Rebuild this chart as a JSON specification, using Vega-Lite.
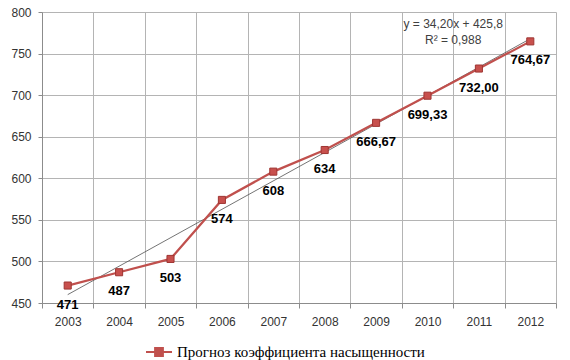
{
  "$schema": "https://vega.github.io/schema/vega-lite/v6.json",
  "width": 514,
  "height": 291,
  "autosize": "none",
  "padding": {"left": 42, "top": 12, "right": 14, "bottom": 57},
  "background": "white",
  "config": {
    "view": {"stroke": null},
    "axis": {"labelFont": "Liberation Sans", "labelFontSize": 12, "labelColor": "#333333", "domainColor": "#8c8c8c", "tickColor": "#8c8c8c", "gridColor": "#b4b4b4", "gridWidth": 1, "title": null}
  },
  "data": {"values": [
    {"year": 2003, "value": 471, "label": "471"},
    {"year": 2004, "value": 487, "label": "487"},
    {"year": 2005, "value": 503, "label": "503"},
    {"year": 2006, "value": 574, "label": "574"},
    {"year": 2007, "value": 608, "label": "608"},
    {"year": 2008, "value": 634, "label": "634"},
    {"year": 2009, "value": 666.67, "label": "666,67"},
    {"year": 2010, "value": 699.33, "label": "699,33"},
    {"year": 2011, "value": 732.0, "label": "732,00"},
    {"year": 2012, "value": 764.67, "label": "764,67"}
  ]},
  "encoding": {
    "x": {"field": "year", "type": "ordinal", "scale": {"type": "band", "paddingInner": 0, "paddingOuter": 0},
      "axis": {"tickBand": "extent", "labelAngle": 0, "tickSize": 5, "labelPadding": 8, "grid": true}},
    "y": {"field": "value", "type": "quantitative", "scale": {"domain": [450, 800], "nice": false, "zero": false},
      "axis": {"values": [450, 500, 550, 600, 650, 700, 750, 800], "tickSize": 4, "labelPadding": 7, "grid": true}}
  },
  "layer": [
    {
      "transform": [{"regression": "value", "on": "year"}],
      "mark": {"type": "line", "color": "#505050", "strokeWidth": 0.8}
    },
    {
      "mark": {"type": "line", "color": "#C0504D", "strokeWidth": 2.25, "point": {"shape": "square", "size": 50, "filled": true, "fill": "#C8504D", "stroke": "#9E3532", "strokeWidth": 1}},
      "encoding": {
        "color": {"datum": "Прогноз коэффициента насыщенности", "type": "nominal", "scale": {"range": ["#C0504D"]},
          "legend": {"title": null, "orient": "none", "legendX": 103, "legendY": 326, "labelFont": "Liberation Serif", "labelFontSize": 15, "labelColor": "#000000", "labelLimit": 0, "symbolType": "M-1,0L1,0M-0.3,-0.3L0.3,-0.3L0.3,0.3L-0.3,0.3Z", "symbolSize": 676, "symbolStrokeWidth": 2, "symbolFillColor": "#C0504D", "labelOffset": 4}}
      }
    },
    {
      "mark": {"type": "text", "font": "Liberation Sans", "fontSize": 13, "fontWeight": "bold", "color": "#000000", "dy": 19, "baseline": "middle", "align": "center"},
      "encoding": {"text": {"field": "label"}}
    },
    {
      "data": {"values": [{"year": 2010, "value": 785, "eq": "y = 34,20x + 425,8\nR² = 0,988"}]},
      "mark": {"type": "text", "font": "Liberation Sans", "fontSize": 12, "color": "#404040", "lineBreak": "\n", "lineHeight": 16, "baseline": "middle", "align": "center"},
      "encoding": {
        "x": {"field": "year", "type": "ordinal", "bandPosition": 1},
        "text": {"field": "eq"}
      }
    }
  ]
}
